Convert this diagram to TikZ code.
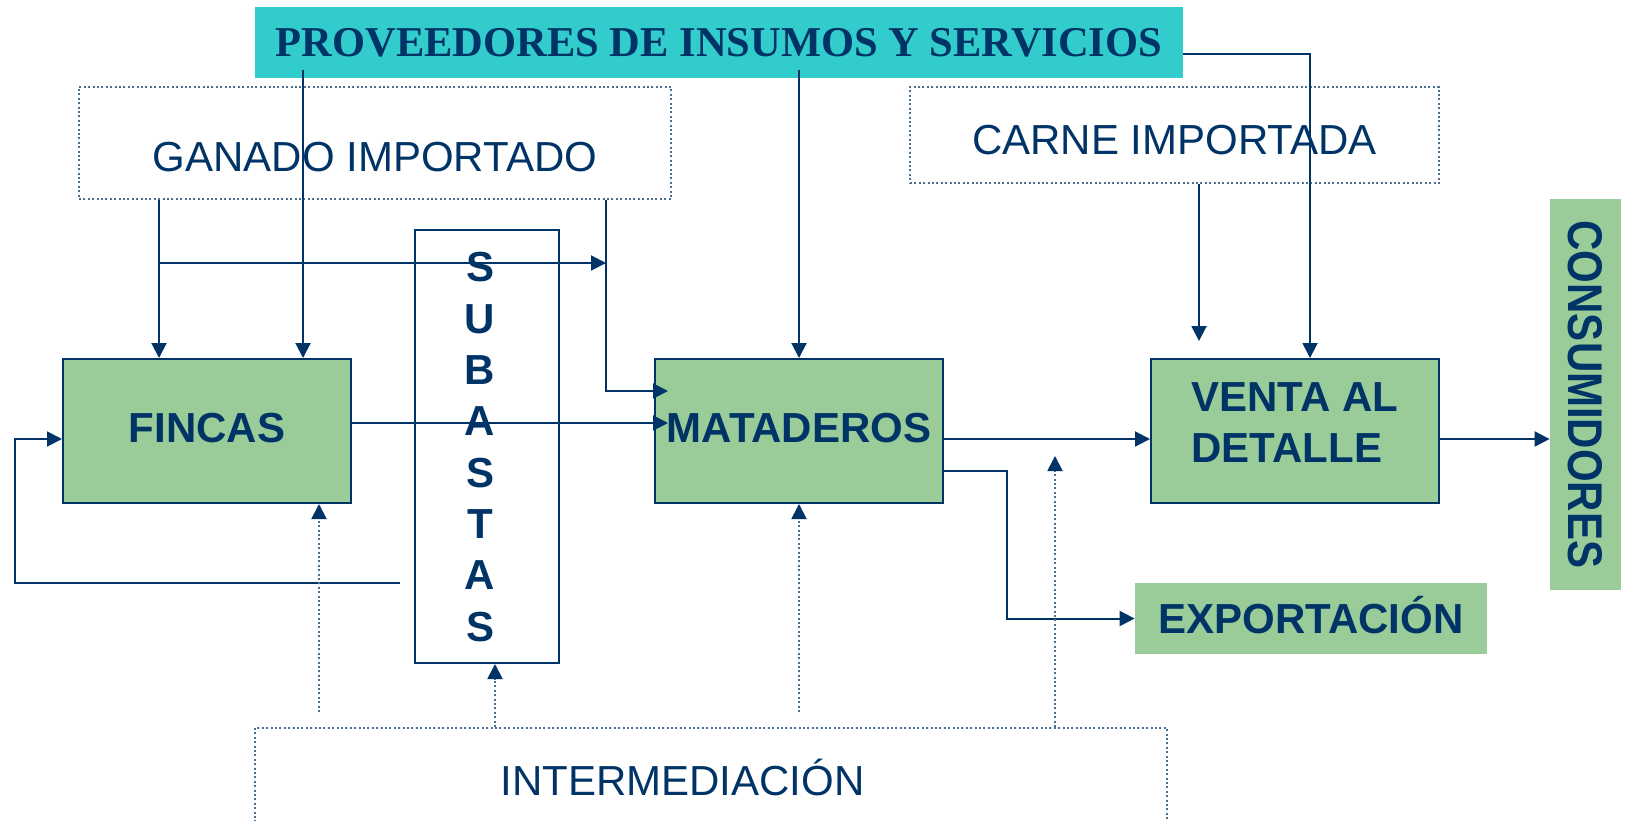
\documentclass[tikz,border=0pt]{standalone}
\usepackage{fontspec}
\usepackage{graphicx}
\setmainfont{Liberation Sans}
\newfontfamily\titlefont{Liberation Serif}
\usetikzlibrary{arrows.meta}
\definecolor{navy}{HTML}{003366}
\definecolor{verde}{HTML}{99CC99}
\definecolor{turquesa}{HTML}{33CCCC}
\definecolor{punteado}{HTML}{4D6D91}
\tikzset{
  box/.style = {fill=verde, inner sep=0pt, text=navy, font=\bfseries\fontsize{21}{25.5}\selectfont},
  framed/.style = {box, draw=navy, line width=1pt},
  dotbox/.style = {draw=punteado, line width=1pt, dash pattern=on 1pt off 1.2pt, inner sep=0pt, text=navy, font=\fontsize{21}{25.5}\selectfont},
  arr/.style = {navy, line width=1pt, -{Triangle[length=7.5pt, width=7.5pt]}},
  darr/.style = {draw=punteado, line width=1pt, dash pattern=on 1pt off 1.2pt, -{Triangle[length=7.5pt, width=7.5pt, color=navy]}},
}
\begin{document}
\begin{tikzpicture}[x=0.5pt, y=-0.5pt]
\useasboundingbox (0,0) rectangle (1625,820);
% cajas
\node[box, fill=turquesa, minimum width=464pt, minimum height=35.5pt, font=\titlefont\bfseries\fontsize{21.25}{25}\selectfont, text height=14pt, text depth=0pt] (prov) at (719,42.5) {PROVEEDORES DE INSUMOS Y SERVICIOS};
\node[dotbox, minimum width=296pt, minimum height=56pt, text height=28pt, text depth=0pt] (ganado) at (375,143) {GANADO IMPORTADO};
\node[dotbox, minimum width=264.5pt, minimum height=48pt, text height=19.5pt, text depth=0pt] (carne) at (1174.5,135) {CARNE IMPORTADA};
\node[framed, fill=white, minimum width=72pt, minimum height=216.5pt, font=\bfseries\fontsize{21}{25.65}\selectfont, text height=15pt, text depth=179.55pt] (sub) at (487,446.5) {\begin{tabular}[t]{@{}c@{\hspace{7pt}}}S\\U\\B\\A\\S\\T\\A\\S\end{tabular}};
\node[framed, minimum width=144pt, minimum height=72pt, text height=15pt, text depth=3.5pt] (fincas) at (207,431) {FINCAS};
\node[framed, minimum width=144pt, minimum height=72pt, text height=15pt, text depth=3.5pt] (mat) at (799,431) {MATADEROS};
\node[framed, minimum width=144pt, minimum height=72pt, align=left, text height=31pt, text depth=0pt] (venta) at (1295,431) {VENTA AL\\DETALLE};
\node[box, minimum width=176pt, minimum height=35.5pt, text height=15pt, text depth=0pt] (export) at (1311,618.5) {EXPORTACIÓN};
\node[box, rotate=-90, minimum width=195.5pt, minimum height=35.5pt] (cons) at (1585.5,394.5) {\scalebox{1}[1.16]{CONSUMIDORES}};
\node[dotbox, minimum width=456pt, minimum height=100pt, anchor=north] (inter) at (711,727) {};
\node[text=navy, font=\fontsize{21}{25.5}\selectfont, anchor=base] (intertxt) at (682.5,795) {INTERMEDIACIÓN};
% puntos de paso
\coordinate (fin-in) at ([yshift=-4pt]fincas.west);
\coordinate (fin-out) at ([yshift=4pt]fincas.east);
\coordinate (mat-in) at ([yshift=4pt]mat.west);
\coordinate (mat-in2) at ([yshift=20pt]mat.west);
\coordinate (mat-out) at ([yshift=-4pt]mat.east);
\coordinate (mat-exp) at ([yshift=-20pt]mat.east);
\coordinate (ven-in) at ([yshift=-4pt]venta.west);
\coordinate (ven-out) at ([yshift=-4pt]venta.east);
\coordinate (prov-out) at ([yshift=-5.75pt]prov.east);
\coordinate (retorno) at (400,583);
\coordinate (cruce) at (159,263);
\coordinate (c-pf) at (303,0);
\coordinate (c-gm) at (606,0);
\coordinate (c-exp) at (1007,0);
\coordinate (c-car) at (1199,0);
\coordinate (c-pv) at (1310,0);
\coordinate (c-if) at (319,0);
\coordinate (c-is) at (495,0);
\coordinate (c-iv) at (1055,0);
\coordinate (c-ret) at (15,0);
% proveedores
\draw[arr, shorten <=-4pt] (c-pf |- prov.south) -- (c-pf |- fincas.north);
\draw[arr, shorten <=-4pt] (mat |- prov.south) -- (mat.north);
\draw[arr] (prov-out) -| (c-pv |- venta.north);
% ganado importado
\draw[arr] (cruce |- ganado.south) -- (cruce |- fincas.north);
\draw[arr] (cruce) -- (c-gm |- cruce);
\draw[arr, shorten >=-7pt] (c-gm |- ganado.south) |- (mat-in2);
% flujo principal
\draw[arr, shorten >=-7pt] (fin-out) -- (mat-in);
\draw[arr] (retorno) -| (c-ret |- fin-in) -- (fin-in);
\draw[arr] (mat-out) -- (ven-in);
\draw[arr] (mat-exp) -| (c-exp |- export.west) -- (export.west);
\draw[arr] (ven-out) -- (ven-out -| cons.south);
\draw[arr, shorten >=8.5pt] (c-car |- carne.south) -- (c-car |- venta.north);
% intermediacion
\draw[darr, shorten <=7.5pt] (c-if |- inter.north) -- (c-if |- fincas.south);
\draw[darr] (c-is |- inter.north) -- (c-is |- sub.south);
\draw[darr, shorten <=7.5pt] (mat |- inter.north) -- (mat.south);
\draw[darr, shorten >=8.5pt] (c-iv |- inter.north) -- (c-iv |- ven-in);
\end{tikzpicture}
\end{document}
